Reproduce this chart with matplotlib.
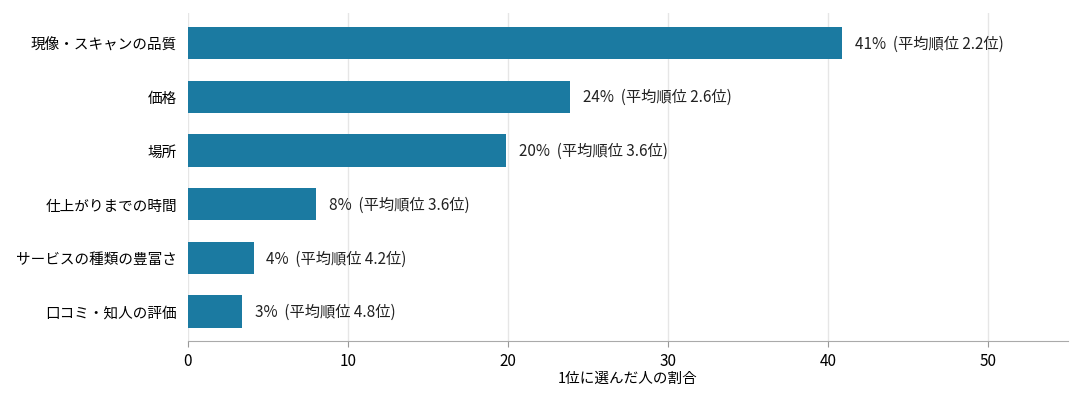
import matplotlib
matplotlib.use("Agg")
import matplotlib.pyplot as plt

plt.rcParams['font.family'] = ['Noto Sans CJK JP', 'DejaVu Sans']

categories = ["現像・スキャンの品質", "価格", "場所", "仕上がりまでの時間", "サービスの種類の豊富さ", "口コミ・知人の評価"]
values = [40.9, 23.9, 19.9, 8.0, 4.1, 3.4]
pct_labels = ["41%", "24%", "20%", "8%", "4%", "3%"]
avg_rank = [2.2, 2.6, 3.6, 3.6, 4.2, 4.8]

fig = plt.figure(figsize=(10.8, 4.02), dpi=100)
ax = fig.add_axes([0.174, 0.149, 0.815, 0.815])
y = list(range(len(categories)))
ax.barh(y, values, height=0.6, color='#1b7aa1', zorder=3)
for yi, v, p, r in zip(y, values, pct_labels, avg_rank):
    ax.text(v + 0.8, yi, f"{p}  (平均順位 {r}位)", va='center', ha='left', fontsize=11, color='#222222')
ax.set_yticks(y)
ax.set_yticklabels(categories, fontsize=10.5)
ax.invert_yaxis()
ax.set_ylim(5.55, -0.55)
ax.set_xlim(0, 55)
ax.set_xticks([0, 10, 20, 30, 40, 50])
ax.tick_params(axis='x', labelsize=11, length=4, color='#999999')
ax.tick_params(axis='y', length=0, pad=8)
ax.grid(axis='x', color='#e6e6e6', linewidth=1, zorder=0)
for s in ['top', 'right', 'left']:
    ax.spines[s].set_visible(False)
ax.spines['bottom'].set_color('#aaaaaa')
ax.set_xlabel("1位に選んだ人の割合", fontsize=10.5, labelpad=2)
fig.savefig("out.png", dpi=100)
